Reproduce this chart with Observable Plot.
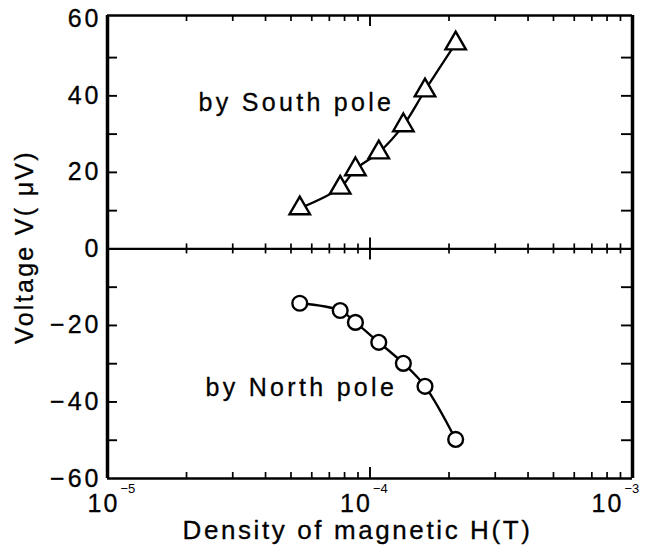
<!DOCTYPE html>
<html><head><meta charset="utf-8">
<script src="https://cdn.jsdelivr.net/npm/d3@7"></script>
<script src="https://cdn.jsdelivr.net/npm/@observablehq/plot@0.6"></script>
<style>body{margin:0;background:#fff}</style>
</head><body><div id="chart"></div>
<script>
// ---- data ----
const hField = [5.4e-5, 7.7e-5, 8.8e-5, 1.08e-4, 1.34e-4, 1.62e-4, 2.12e-4];
const southVoltage = [10.6, 16.0, 20.8, 25.2, 32.3, 41.4, 53.7];
const northVoltage = [-14.2, -16.1, -19.2, -24.4, -29.9, -35.9, -49.8];
const yTickValues = [60, 40, 20, 0, -20, -40, -60];
const yTickLabels = ["60", "40", "20", "0", "\u221220", "\u221240", "\u221260"];
const yMinorValues = [50, 40, 30, 20, 10, -10, -20, -30, -40, -50];
const xDecades = [1e-5, 1e-4, 1e-3];
const xExponents = ["\u22125", "\u22124", "\u22123"];
const seriesLabels = ["by South pole", "by North pole"];
const xTitle = "Density of magnetic H(T)";
const yTitle = "Voltage V( \u03bcV)";

// ---- layout ----
const W = 649, H = 552;
const mL = 107, mR = 17, mT = 15, mB = 74;
const xDom = [1e-5, 1e-3], yDom = [-60, 61];
const pw = W - mL - mR, ph = H - mT - mB;
const decPerPx = Math.log10(xDom[1] / xDom[0]) / pw;
const yPerPx = (yDom[1] - yDom[0]) / ph;
const xShift = (x, px) => x * Math.pow(10, px * decPerPx);

const minorX = [];
for (const d of [1e-5, 1e-4]) for (let k = 2; k <= 9; k++) minorX.push(k * d);
const majorX = [1e-4];

const south = hField.map((h, i) => ({h, v: southVoltage[i]}));
const north = hField.map((h, i) => ({h, v: northVoltage[i]}));

const font = "Liberation Sans, Arial, Helvetica, sans-serif";
const tenDx = [-4, -14, -25];
const ink = {fill: "black", stroke: "black", strokeWidth: 0.3, fontFamily: font};

const marks = [
  // frame
  Plot.ruleY([yDom[0]], {stroke: "black", strokeWidth: 2.5}),
  Plot.ruleY([yDom[1]], {stroke: "black", strokeWidth: 2.5}),
  Plot.ruleX([xDom[0]], {stroke: "black", strokeWidth: 3.5}),
  Plot.ruleX([xDom[1]], {stroke: "black", strokeWidth: 3.5}),
  Plot.ruleY([0], {stroke: "black", strokeWidth: 2.2}),
  // x ticks bottom / top / zero line
  Plot.ruleX(minorX, {x: d => d, y1: yDom[0], y2: yDom[0] + 6 * yPerPx, strokeWidth: 1.7}),
  Plot.ruleX(majorX, {x: d => d, y1: yDom[0], y2: yDom[0] + 11 * yPerPx, strokeWidth: 1.9}),
  Plot.ruleX(minorX, {x: d => d, y1: yDom[1], y2: yDom[1] - 6 * yPerPx, strokeWidth: 1.7}),
  Plot.ruleX(majorX, {x: d => d, y1: yDom[1], y2: yDom[1] - 11 * yPerPx, strokeWidth: 1.9}),
  Plot.ruleX(minorX, {x: d => d, y1: -5 * yPerPx, y2: 5 * yPerPx, strokeWidth: 1.7}),
  Plot.ruleX(majorX, {x: d => d, y1: -11 * yPerPx, y2: 11 * yPerPx, strokeWidth: 1.9}),
  // y ticks left / right
  Plot.ruleY(yMinorValues, {y: d => d, x1: xDom[0], x2: xShift(xDom[0], 10), strokeWidth: 1.9}),
  Plot.ruleY(yMinorValues, {y: d => d, x1: xShift(xDom[1], -11), x2: xDom[1], strokeWidth: 1.9}),
  // curves
  Plot.line(south, {x: "h", y: "v", curve: "catmull-rom", stroke: "black", strokeWidth: 2.3}),
  Plot.line(north, {x: "h", y: "v", curve: "catmull-rom", stroke: "black", strokeWidth: 2.3}),
  Plot.dot(south, {x: "h", y: "v", symbol: "triangle", r: 7.6, fill: "white", stroke: "black", strokeWidth: 2.4}),
  Plot.dot(north, {x: "h", y: "v", symbol: "circle", r: 7.4, fill: "white", stroke: "black", strokeWidth: 2.4}),
  // y tick labels
  Plot.text(yTickValues.map((v, i) => ({v, t: yTickLabels[i]})), {
    y: "v", text: "t", frameAnchor: "left", textAnchor: "end", dx: -6,
    fontSize: 25, ...ink, ariaDescription: "ylabels"
  }),
  // x tick labels (10 with superscript exponent)
  ...xDecades.map((d, i) => Plot.text([d], {
    x: d => d, text: () => "10", frameAnchor: "bottom", textAnchor: "middle", lineAnchor: "bottom", dy: 33, dx: tenDx[i],
    fontSize: 25, ...ink, ariaDescription: "xlabels"
  })),
  ...xDecades.map((d, i) => Plot.text([d], {
    x: d => d, text: () => xExponents[i], frameAnchor: "bottom", lineAnchor: "bottom", textAnchor: "start",
    dy: 14, dx: tenDx[i] + 17, fontSize: 13, fontFamily: font, fill: "black"
  })),
  // titles
  Plot.text([xTitle], {
    frameAnchor: "bottom-left", textAnchor: "start", lineAnchor: "bottom", dx: 75, dy: 60,
    fontSize: 26, ...ink, ariaDescription: "xtitle"
  }),
  Plot.text([yTitle], {
    frameAnchor: "left", textAnchor: "middle", rotate: -90, dx: -83, fontSize: 25, ...ink, ariaDescription: "ytitle"
  }),
  // series annotations
  Plot.text([seriesLabels[0]], {
    frameAnchor: "top-left", textAnchor: "start", lineAnchor: "bottom", dx: 91, dy: 95,
    fontSize: 25, ...ink, ariaDescription: "series"
  }),
  Plot.text([seriesLabels[1]], {
    frameAnchor: "top-left", textAnchor: "start", lineAnchor: "bottom", dx: 98, dy: 380,
    fontSize: 25, ...ink, ariaDescription: "series"
  })
];

const chart = Plot.plot({
  width: W, height: H,
  marginLeft: mL, marginRight: mR, marginTop: mT, marginBottom: mB,
  x: {type: "log", domain: xDom, axis: null},
  y: {type: "linear", domain: yDom, axis: null},
  style: {background: "white", fontFamily: font},
  marks
});
const spacing = {ylabels: 3, xlabels: 2, xtitle: 2.6, ytitle: 2.3, series: 3.3};
for (const [k, s] of Object.entries(spacing)) {
  chart.querySelectorAll(`g[aria-description="${k}"] text`).forEach(t => t.setAttribute("letter-spacing", s));
}
document.getElementById("chart").appendChild(chart);
</script>
</body></html>
